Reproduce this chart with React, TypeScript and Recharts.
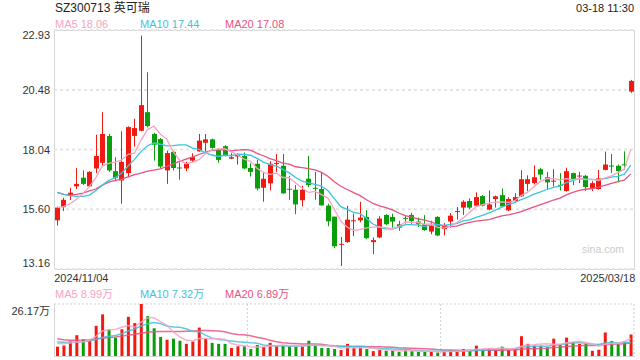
import React from 'react';
import { ComposedChart, Bar, Line, XAxis, YAxis, CartesianGrid, Cell } from 'recharts';

const FONT = '"Liberation Sans", Arial, "Noto Sans CJK SC", sans-serif';
const RED = '#f01a10';
const GREEN = '#0a9e0a';
const C_MA5 = '#f7a3c4';
const C_MA10 = '#3ec3de';
const C_MA20 = '#e9527f';

const dates = [
	'2024/11/04', '2024/11/05', '2024/11/06', '2024/11/07', '2024/11/08', '2024/11/11', '2024/11/12', '2024/11/13', '2024/11/14', '2024/11/15',
	'2024/11/18', '2024/11/19', '2024/11/20', '2024/11/21', '2024/11/22', '2024/11/25', '2024/11/26', '2024/11/27', '2024/11/28', '2024/11/29',
	'2024/12/02', '2024/12/03', '2024/12/04', '2024/12/05', '2024/12/06', '2024/12/09', '2024/12/10', '2024/12/11', '2024/12/12', '2024/12/13',
	'2024/12/16', '2024/12/17', '2024/12/18', '2024/12/19', '2024/12/20', '2024/12/23', '2024/12/24', '2024/12/25', '2024/12/26', '2024/12/27',
	'2024/12/30', '2024/12/31', '2025/01/02', '2025/01/03', '2025/01/06', '2025/01/07', '2025/01/08', '2025/01/09', '2025/01/10', '2025/01/13',
	'2025/01/14', '2025/01/15', '2025/01/16', '2025/01/17', '2025/01/20', '2025/01/21', '2025/01/22', '2025/01/23', '2025/01/24', '2025/01/27',
	'2025/02/05', '2025/02/06', '2025/02/07', '2025/02/10', '2025/02/11', '2025/02/12', '2025/02/13', '2025/02/14', '2025/02/17', '2025/02/18',
	'2025/02/19', '2025/02/20', '2025/02/21', '2025/02/24', '2025/02/25', '2025/02/26', '2025/02/27', '2025/02/28', '2025/03/03', '2025/03/04',
	'2025/03/05', '2025/03/06', '2025/03/07', '2025/03/10', '2025/03/11', '2025/03/12', '2025/03/13', '2025/03/14', '2025/03/17', '2025/03/18',
];

const opens = [
	15.15, 15.69, 16.14, 16.54, 16.89, 16.54, 17.27, 17.5, 18.6, 17.16,
	16.78, 17.08, 18.6, 18.81, 19.57, 18.68, 18.47, 17.19, 17.95, 17.31,
	17.27, 17.59, 17.97, 18.32, 18.46, 18.03, 18.18, 17.67, 17.76, 17.78,
	17.29, 17.46, 16.48, 16.66, 17.47, 17.38, 16.44, 16.4, 15.97, 16.85,
	16.48, 16.43, 15.75, 15.3, 14.16, 14.26, 15.13, 15.15, 15.29, 14.26,
	14.45, 15.37, 15.29, 14.99, 15.25, 15.37, 15.1, 14.99, 14.69, 15.29,
	14.79, 15.1, 15.5, 15.67, 15.94, 15.75, 16.14, 15.59, 16.02, 16.18,
	15.56, 15.94, 16.13, 16.64, 16.67, 17.24, 16.91, 16.74, 16.6, 16.35,
	17.08, 16.96, 16.97, 16.45, 16.43, 17.21, 17.39, 17.38, 17.44, 20.41,
];

const highs = [
	15.71, 16.07, 16.48, 17.29, 17.19, 17.16, 18.65, 19.57, 18.68, 17.73,
	18.79, 18.99, 19.3, 22.7, 21.2, 18.73, 18.51, 18.0, 18.0, 17.51,
	17.54, 17.89, 18.68, 18.68, 18.49, 18.08, 18.22, 17.89, 17.89, 17.92,
	17.48, 17.62, 17.13, 17.57, 17.86, 17.86, 16.97, 16.59, 16.56, 17.78,
	17.13, 17.13, 15.83, 15.3, 14.47, 15.74, 15.42, 15.91, 15.56, 14.45,
	15.32, 15.4, 15.42, 15.13, 15.34, 15.46, 15.26, 15.36, 15.13, 15.32,
	15.04, 15.45, 15.69, 15.97, 16.05, 16.29, 16.18, 16.37, 16.16, 16.45,
	16.1, 16.26, 17.19, 16.99, 17.4, 17.3, 17.13, 17.24, 17.08, 17.3,
	17.1, 17.13, 17.0, 16.75, 17.21, 17.96, 17.86, 17.43, 17.97, 20.89,
];

const lows = [
	14.94, 15.53, 15.98, 16.43, 16.59, 16.51, 17.08, 17.36, 17.13, 16.75,
	15.83, 16.91, 18.16, 18.79, 18.95, 17.59, 17.29, 16.64, 17.19, 16.81,
	17.16, 17.54, 17.95, 17.97, 18.08, 17.51, 17.76, 17.65, 17.43, 17.24,
	16.94, 16.37, 15.91, 16.37, 17.13, 16.24, 15.99, 15.4, 15.72, 16.51,
	15.99, 15.75, 14.91, 14.01, 13.28, 14.23, 14.5, 15.07, 14.38, 13.77,
	14.42, 14.96, 14.85, 14.72, 15.02, 14.96, 14.88, 14.72, 14.58, 14.5,
	14.53, 14.85, 15.18, 15.37, 15.61, 15.72, 15.72, 15.56, 15.67, 15.69,
	15.53, 15.91, 16.1, 16.35, 16.62, 16.81, 16.4, 16.54, 16.37, 16.32,
	16.59, 16.67, 16.35, 16.35, 16.4, 17.19, 17.08, 16.7, 17.21, 20.36,
];

const closes = [
	15.67, 15.99, 16.28, 16.64, 16.64, 17.13, 17.78, 18.68, 17.19, 16.89,
	17.54, 18.96, 18.92, 19.86, 19.0, 18.24, 17.35, 17.9, 17.29, 17.28,
	17.46, 17.73, 18.41, 18.46, 18.11, 17.62, 17.81, 17.73, 17.84, 17.27,
	17.13, 16.45, 16.85, 17.46, 17.49, 16.25, 16.41, 15.8, 16.4, 16.59,
	16.45, 15.76, 15.11, 14.09, 14.19, 15.18, 15.15, 15.26, 14.42, 14.34,
	15.22, 14.99, 15.1, 14.85, 15.22, 15.12, 14.99, 14.75, 14.92, 14.53,
	14.96, 15.34, 15.53, 15.91, 15.67, 16.1, 15.75, 15.8, 16.13, 15.72,
	16.02, 16.1, 16.83, 16.83, 16.91, 17.02, 16.7, 16.77, 16.58, 17.16,
	16.83, 16.98, 16.51, 16.67, 16.86, 17.43, 17.36, 17.16, 17.42, 20.85,
];

const ma5 = [
	15.67, 15.71, 15.83, 16.01, 16.24, 16.54, 16.89, 17.37, 17.48, 17.53,
	17.62, 17.85, 17.9, 18.43, 18.86, 19.0, 18.67, 18.47, 17.96, 17.61,
	17.46, 17.53, 17.63, 17.87, 18.03, 18.07, 18.08, 17.95, 17.82, 17.65,
	17.56, 17.28, 17.11, 17.03, 17.08, 16.9, 16.89, 16.68, 16.47, 16.29,
	16.33, 16.2, 16.06, 15.6, 15.12, 14.87, 14.74, 14.77, 14.84, 14.87,
	14.88, 14.85, 14.81, 14.9, 15.08, 15.06, 15.06, 14.99, 15.0, 14.86,
	14.83, 14.9, 15.06, 15.25, 15.48, 15.71, 15.79, 15.85, 15.89, 15.9,
	15.88, 15.95, 16.16, 16.3, 16.54, 16.74, 16.86, 16.85, 16.8, 16.85,
	16.81, 16.86, 16.81, 16.83, 16.77, 16.89, 16.97, 17.1, 17.25, 18.04,
];

const ma10 = [
	16.29, 16.21, 16.16, 16.13, 16.13, 16.18, 16.37, 16.59, 16.78, 16.89,
	17.08, 17.37, 17.64, 17.96, 18.2, 18.31, 18.26, 18.19, 18.2, 18.23,
	18.23, 18.1, 18.05, 17.91, 17.82, 17.76, 17.81, 17.79, 17.85, 17.84,
	17.81, 17.68, 17.53, 17.43, 17.37, 17.23, 17.09, 16.9, 16.75, 16.68,
	16.62, 16.55, 16.37, 16.04, 15.71, 15.6, 15.47, 15.42, 15.22, 15.0,
	14.87, 14.8, 14.79, 14.87, 14.97, 14.97, 14.95, 14.9, 14.95, 14.97,
	14.94, 14.98, 15.02, 15.13, 15.17, 15.27, 15.35, 15.45, 15.57, 15.69,
	15.8, 15.87, 16.0, 16.1, 16.22, 16.31, 16.41, 16.5, 16.55, 16.69,
	16.77, 16.86, 16.83, 16.81, 16.81, 16.85, 16.92, 16.95, 17.04, 17.41,
];

const ma20 = [
	16.29, 16.21, 16.18, 16.21, 16.26, 16.35, 16.43, 16.59, 16.71, 16.78,
	16.83, 16.93, 17.02, 17.08, 17.16, 17.2, 17.25, 17.35, 17.46, 17.56,
	17.65, 17.74, 17.84, 17.94, 18.01, 18.03, 18.04, 17.99, 18.02, 18.04,
	18.02, 17.89, 17.79, 17.67, 17.59, 17.49, 17.45, 17.34, 17.3, 17.26,
	17.21, 17.11, 16.95, 16.73, 16.54, 16.41, 16.28, 16.16, 15.99, 15.84,
	15.74, 15.67, 15.58, 15.45, 15.34, 15.28, 15.21, 15.16, 15.09, 14.98,
	14.91, 14.89, 14.91, 15.0, 15.07, 15.12, 15.15, 15.18, 15.26, 15.33,
	15.37, 15.43, 15.51, 15.61, 15.7, 15.79, 15.88, 15.98, 16.06, 16.19,
	16.29, 16.37, 16.42, 16.45, 16.51, 16.58, 16.66, 16.73, 16.79, 17.05,
];

// volume in 万
const volumes = [
	4.71, 5.23, 7.33, 10.47, 8.37, 7.85, 15.18, 20.94, 13.43, 9.25,
	13.43, 19.71, 16.57, 26.17, 20.06, 13.96, 9.6, 8.2, 8.72, 7.68,
	6.11, 7.33, 14.31, 8.72, 6.63, 6.11, 6.11, 4.01, 4.89, 4.89,
	3.49, 5.58, 4.54, 6.63, 5.23, 5.58, 4.71, 4.71, 4.71, 7.68,
	5.58, 4.01, 4.01, 3.49, 2.97, 6.11, 4.01, 4.36, 3.49, 2.44,
	2.97, 2.62, 2.62, 2.09, 3.14, 2.44, 2.09, 2.09, 2.09, 1.74,
	2.62, 2.97, 2.62, 3.49, 2.97, 5.23, 3.49, 3.84, 3.14, 4.71,
	3.14, 3.84, 9.95, 6.11, 5.23, 5.23, 4.36, 8.72, 5.76, 9.25,
	6.98, 6.11, 6.11, 2.62, 3.14, 11.86, 7.5, 6.46, 7.33, 10.82,
];

const volMa5 = [
	6.3, 6.2, 6.5, 7.1, 7.22, 7.85, 9.84, 12.56, 13.15, 13.33,
	14.45, 15.35, 14.48, 17.03, 19.19, 19.29, 17.27, 15.6, 12.11, 9.63,
	8.06, 7.61, 8.83, 8.83, 8.62, 8.62, 8.38, 6.32, 5.55, 5.2,
	4.68, 4.57, 4.68, 5.03, 5.09, 5.51, 5.34, 5.37, 4.99, 5.48,
	5.48, 5.34, 5.2, 4.95, 4.01, 4.12, 4.12, 4.19, 4.19, 4.08,
	3.45, 3.18, 2.83, 2.55, 2.69, 2.58, 2.48, 2.37, 2.37, 2.09,
	2.13, 2.3, 2.41, 2.69, 2.93, 3.46, 3.56, 3.8, 3.73, 4.08,
	3.66, 3.73, 4.96, 5.55, 5.65, 6.07, 6.18, 5.93, 5.86, 6.66,
	7.01, 7.36, 6.84, 6.21, 4.99, 5.97, 6.25, 6.32, 7.26, 8.79,
];

const volMa10 = [
	7.0, 6.9, 6.9, 7.0, 7.2, 7.6, 8.3, 9.3, 9.9, 10.28,
	11.15, 12.6, 13.52, 15.09, 16.26, 16.87, 16.31, 15.04, 14.57, 14.41,
	13.68, 12.44, 12.21, 10.47, 9.13, 8.34, 7.99, 7.57, 7.19, 6.91,
	6.65, 6.47, 5.5, 5.29, 5.15, 5.1, 4.96, 5.03, 5.01, 5.29,
	5.5, 5.34, 5.29, 4.97, 4.75, 4.8, 4.73, 4.69, 4.57, 4.05,
	3.79, 3.65, 3.51, 3.37, 3.39, 3.02, 2.83, 2.6, 2.46, 2.39,
	2.35, 2.39, 2.39, 2.53, 2.51, 2.79, 2.93, 3.11, 3.21, 3.51,
	3.56, 3.65, 4.38, 4.64, 4.87, 4.87, 4.96, 5.44, 5.71, 6.16,
	6.54, 6.77, 6.39, 6.04, 5.83, 6.49, 6.81, 6.58, 6.74, 6.89,
];

const volMa20 = [
	8.7, 8.2, 7.9, 7.9, 8.0, 8.2, 8.5, 8.9, 9.3, 9.6,
	10.0, 10.5, 11.0, 11.5, 11.9, 12.2, 12.3, 12.3, 12.3, 12.34,
	12.41, 12.52, 12.87, 12.78, 12.69, 12.61, 12.15, 11.31, 10.88, 10.66,
	10.16, 9.46, 8.86, 7.88, 7.14, 6.72, 6.47, 6.3, 6.1, 6.1,
	6.07, 5.91, 5.39, 5.13, 4.95, 4.95, 4.84, 4.86, 4.79, 4.67,
	4.64, 4.49, 4.4, 4.17, 4.07, 3.91, 3.78, 3.65, 3.52, 3.22,
	3.07, 3.02, 2.95, 2.95, 2.95, 2.9, 2.88, 2.85, 2.84, 2.95,
	2.96, 3.02, 3.38, 3.59, 3.69, 3.83, 3.94, 4.27, 4.46, 4.83,
	5.05, 5.21, 5.38, 5.34, 5.35, 5.68, 5.88, 6.01, 6.22, 6.53,
];

const priceTicks = [13.16, 15.6, 18.04, 20.48, 22.93];
const volTicks = [0, 26.17];
const dateTicks = [dates[0], dates[dates.length - 1]];

const candles = dates.map((date, i) => ({
	date,
	open: opens[i],
	high: highs[i],
	low: lows[i],
	close: closes[i],
	ma5: ma5[i],
	ma10: ma10[i],
	ma20: ma20[i],
}));

const volumeRows = dates.map((date, i) => ({
	date,
	vol: volumes[i],
	up: closes[i] >= opens[i],
	ma5: volMa5[i],
	ma10: volMa10[i],
	ma20: volMa20[i],
}));

const Candle = (props: any) => {
	const { x, y, width, height, payload } = props;
	const { open, close, high, low } = payload;
	const color = close >= open ? RED : GREEN;
	const top = Math.min(y, y + height);
	const span = Math.abs(height);
	// map a price inside [low, high] to the pixel range that the bar scale gave us
	const py = (v: number) => top + ((high - v) / (high - low)) * span;
	const cx = Math.round(x + width / 2) + 0.5;
	const bTop = py(Math.max(open, close));
	const bBot = py(Math.min(open, close));
	return (
		<g>
			<line x1={cx} x2={cx} y1={top} y2={top + span} stroke={color} strokeWidth={1} />
			<rect x={cx - 2.5} y={bTop} width={5} height={Math.max(1, bBot - bTop)} fill={color} />
		</g>
	);
};

const PriceTick = ({ x, y, payload }: any) => {
	const v = payload.value;
	const dy = v === priceTicks[priceTicks.length - 1] ? 9 : v === priceTicks[0] ? -2 : 4;
	return (
		<text x={x} y={y + dy} textAnchor='end' fontSize={11} fill='#333' fontFamily={FONT}>
			{v.toFixed(2)}
		</text>
	);
};

const VolTick = ({ x, y, payload }: any) => {
	const v = payload.value;
	const top = v === volTicks[volTicks.length - 1];
	return (
		<text x={x} y={y + (top ? 11 : -4)} textAnchor='end' fontSize={11} fill='#333' fontFamily={FONT}>
			{top ? `${v}万` : '0'}
		</text>
	);
};

const DateTick = ({ x, y, payload }: any) => {
	const first = payload.value === dateTicks[0];
	return (
		<text
			x={first ? x - 3 : x + 4.5}
			y={y + 13}
			textAnchor={first ? 'start' : 'end'}
			fontSize={11}
			fill='#333'
			fontFamily={FONT}
		>
			{payload.value}
		</text>
	);
};

const abs = (s: React.CSSProperties): React.CSSProperties => ({ position: 'absolute', ...s });

export default function App() {
	return (
		<div style={abs({ left: 0, top: 0, width: 640, height: 360, background: '#fff', fontFamily: FONT, overflow: 'hidden' })}>
			<div style={abs({ left: 54, top: 30, width: 581, height: 240, border: '1px solid #d6d6d6', boxSizing: 'border-box' })} />
			<div style={abs({ left: 54, top: 304, width: 581, height: 53, borderLeft: '1px solid #d6d6d6', borderBottom: '1px solid #d6d6d6', boxSizing: 'border-box' })} />

			<div style={abs({ left: 55, top: 1, fontSize: 12, lineHeight: '14px', color: '#222' })}>SZ300713 英可瑞</div>
			<div style={abs({ right: 6, top: 1, fontSize: 11, lineHeight: '14px', color: '#222' })}>03-18 11:30</div>

			<div style={abs({ left: 55, top: 18, fontSize: 11, lineHeight: '13px', color: C_MA5 })}>MA5 18.06</div>
			<div style={abs({ left: 140, top: 18, fontSize: 11, lineHeight: '13px', color: C_MA10 })}>MA10 17.44</div>
			<div style={abs({ left: 225, top: 18, fontSize: 11, lineHeight: '13px', color: C_MA20 })}>MA20 17.08</div>

			<div style={abs({ left: 55, top: 288, fontSize: 11, lineHeight: '13px', color: C_MA5 })}>MA5 8.99万</div>
			<div style={abs({ left: 140, top: 288, fontSize: 11, lineHeight: '13px', color: C_MA10 })}>MA10 7.32万</div>
			<div style={abs({ left: 225, top: 288, fontSize: 11, lineHeight: '13px', color: C_MA20 })}>MA20 6.89万</div>

			<div style={abs({ left: 582, top: 243, fontSize: 10.5, lineHeight: '12px', color: '#cbcbcb' })}>sina.com</div>

			<div style={abs({ left: 0, top: 0 })}>
				<ComposedChart
					width={640}
					height={290}
					data={candles}
					margin={{ top: 30, right: 6, left: 4, bottom: 0 }}
					barCategoryGap={0}
				>
					<CartesianGrid vertical={false} stroke='#e3e3e3' strokeWidth={2} strokeDasharray='3 3' />
					<XAxis
						dataKey='date'
						ticks={dateTicks}
						interval={0}
						axisLine={false}
						tickLine={false}
						tickSize={0}
						tickMargin={0}
						height={21}
						tick={<DateTick />}
					/>
					<YAxis
						domain={[13.16, 22.93]}
						allowDataOverflow
						ticks={priceTicks}
						axisLine={false}
						tickLine={false}
						tickSize={0}
						tickMargin={4}
						width={50}
						tick={<PriceTick />}
					/>
					<Bar dataKey={(d: any) => [d.low, d.high]} shape={<Candle />} isAnimationActive={false} />
					<Line type='linear' dataKey='ma20' stroke={C_MA20} strokeWidth={1.3} dot={false} isAnimationActive={false} />
					<Line type='linear' dataKey='ma10' stroke={C_MA10} strokeWidth={1.3} dot={false} isAnimationActive={false} />
					<Line type='linear' dataKey='ma5' stroke={C_MA5} strokeWidth={1.3} dot={false} isAnimationActive={false} />
				</ComposedChart>
			</div>

			<div style={abs({ left: 0, top: 0 })}>
				<ComposedChart
					width={640}
					height={360}
					data={volumeRows}
					margin={{ top: 304, right: 6, left: 4, bottom: 4 }}
					barCategoryGap={0}
				>
					<CartesianGrid
						stroke='#cfcfcf'
						strokeDasharray='2 2'
						horizontalCoordinatesGenerator={({ offset }: any) => [offset.top]}
						verticalCoordinatesGenerator={({ offset }: any) => [
							offset.left + offset.width / 3,
							offset.left + (offset.width * 2) / 3,
							offset.left + offset.width,
						]}
					/>
					<XAxis dataKey='date' hide />
					<YAxis
						domain={[0, 26.17]}
						allowDataOverflow
						ticks={volTicks}
						axisLine={false}
						tickLine={false}
						tickSize={0}
						tickMargin={4}
						width={50}
						tick={<VolTick />}
					/>
					<Bar dataKey='vol' barSize={3} isAnimationActive={false}>
						{volumeRows.map((r, i) => (
							<Cell key={i} fill={r.up ? RED : GREEN} />
						))}
					</Bar>
					<Line type='linear' dataKey='ma20' stroke={C_MA20} strokeWidth={1.5} strokeOpacity={0.85} dot={false} isAnimationActive={false} />
					<Line type='linear' dataKey='ma10' stroke={C_MA10} strokeWidth={1.5} strokeOpacity={0.85} dot={false} isAnimationActive={false} />
					<Line type='linear' dataKey='ma5' stroke={C_MA5} strokeWidth={1.5} strokeOpacity={0.85} dot={false} isAnimationActive={false} />
				</ComposedChart>
			</div>
		</div>
	);
}
